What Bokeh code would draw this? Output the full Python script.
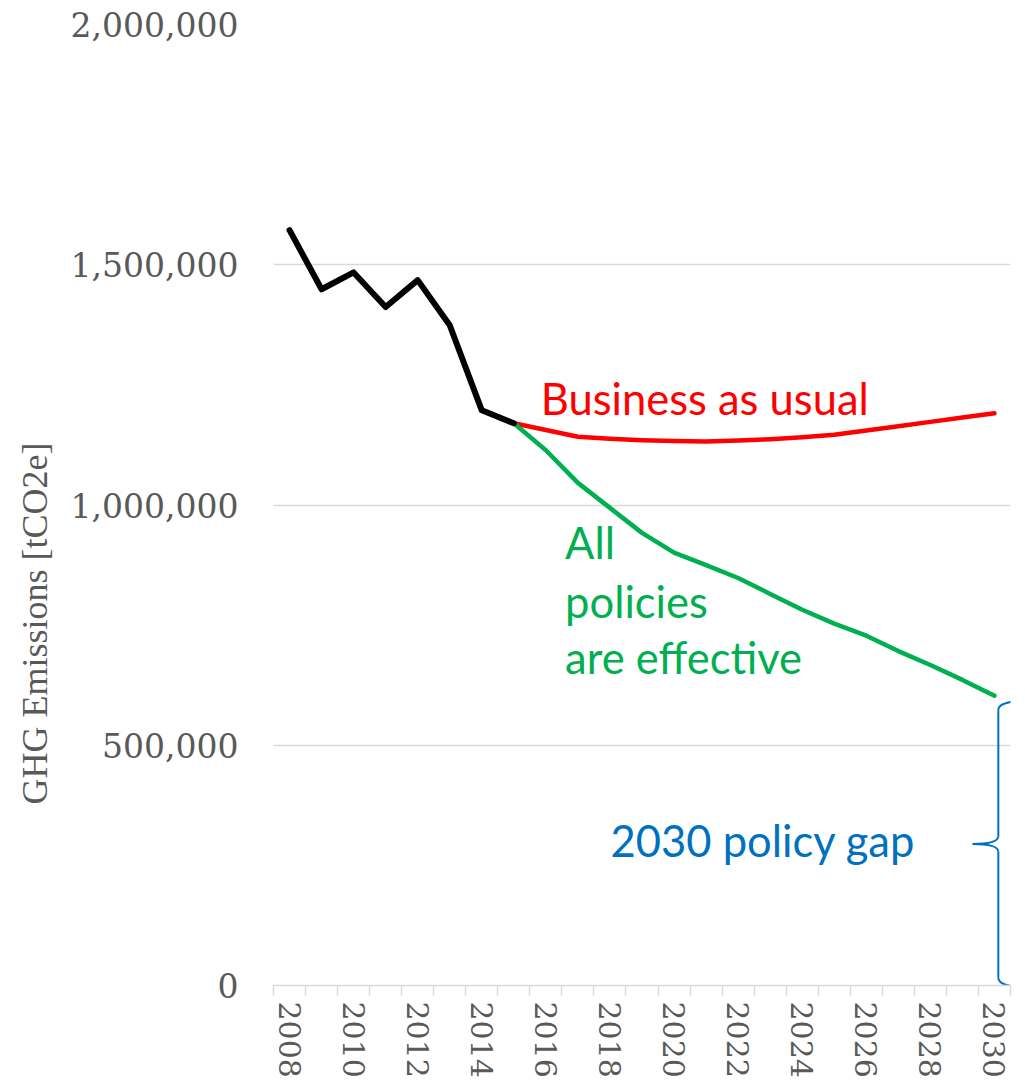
import numpy as np
from bokeh.plotting import figure
from bokeh.models import FixedTicker, NumeralTickFormatter, Range1d, Title
from bokeh.core.properties import value
from bokeh.embed import file_html
from bokeh.resources import INLINE

# ---------------- data ----------------
hist_years = [2008, 2009, 2010, 2011, 2012, 2013, 2014, 2015]
hist_values = [1572000, 1449000, 1484000, 1412000, 1468000, 1374000, 1197000, 1170000]

proj_years = list(range(2015, 2031))
bau_values = [1170000, 1156000, 1142000, 1138000, 1135000, 1133000, 1132000, 1134000,
              1137000, 1141000, 1146000, 1155000, 1164000, 1173000, 1182000, 1191000]
policy_values = [1170000, 1114000, 1046000, 994000, 942000, 901000, 875000, 848000,
                 815000, 782000, 753000, 728000, 696000, 667000, 636000, 603000]

tick_years = list(range(2008, 2031, 2))
all_years = list(range(2008, 2031))
y_ticks = [0, 500000, 1000000, 1500000, 2000000]

GRAY = "#595959"
GRID = "#D9D9D9"
RED = "#FF0000"
GREEN = "#00B050"
BLUE = "#0070C0"

p = figure(width=1020, height=1080,
           x_range=Range1d(all_years[0] - 0.5, all_years[-1] + 0.5),
           y_range=Range1d(0, 2000000),
           output_backend="svg", toolbar_location=None,
           min_border_left=272, min_border_right=10,
           min_border_top=24, min_border_bottom=94)
p.outline_line_color = None
p.background_fill_color = "white"
p.xgrid.grid_line_color = None
p.ygrid.grid_line_color = GRID
p.ygrid.grid_line_width = 1.5

# x axis
p.xaxis.ticker = FixedTicker(ticks=tick_years,
                             minor_ticks=[y - 0.5 for y in all_years] + [all_years[-1] + 0.5])
p.xaxis.axis_line_color = GRID
p.xaxis.axis_line_width = 1.5
p.xaxis.major_tick_line_color = None
p.xaxis.major_tick_out = 0
p.xaxis.major_tick_in = 0
p.xaxis.minor_tick_line_color = GRID
p.xaxis.minor_tick_line_width = 1.5
p.xaxis.minor_tick_out = 10
p.xaxis.minor_tick_in = 0
p.xaxis.major_label_orientation = "vertical"
p.xaxis.major_label_standoff = 6
p.xaxis.major_label_text_font = "DejaVu Serif"
p.xaxis.major_label_text_font_size = "30px"
p.xaxis.major_label_text_color = GRAY

# y axis
p.yaxis.ticker = FixedTicker(ticks=y_ticks)
p.yaxis.formatter = NumeralTickFormatter(format="0,0")
p.yaxis.axis_line_color = None
p.yaxis.major_tick_line_color = None
p.yaxis.minor_tick_line_color = None
p.yaxis.major_tick_out = 0
p.yaxis.major_tick_in = 0
p.yaxis.major_label_standoff = 35
p.yaxis.major_label_text_font = "DejaVu Serif"
p.yaxis.major_label_text_font_size = "33px"
p.yaxis.major_label_text_color = GRAY

# axis title, placed lower than centre as in the original
p.add_layout(Title(text="GHG Emissions [tCO2e]", align="left", offset=181,
                   standoff=25,
                   text_font="Liberation Serif", text_font_size="36px",
                   text_font_style="normal", text_color=GRAY), "left")

# lines
p.line(proj_years, bau_values, line_color=RED, line_width=4.5,
       line_join="round", line_cap="round")
p.line(proj_years, policy_values, line_color=GREEN, line_width=4.5,
       line_join="round", line_cap="round")
p.line(hist_years, hist_values, line_color="black", line_width=6,
       line_join="round", line_cap="round")

# annotations
font = value("Lato")
fs = "43.5px"
p.text(x=[2015.84], y=[1222000], text=["Business as usual"], text_color=RED,
       text_font=font, text_font_size=fs, text_baseline="alphabetic", text_align="left")
p.text(x=[2016.6] * 3, y=[922000, 801000, 683000],
       text=["All", "policies", "are effective"], text_color=GREEN,
       text_font=font, text_font_size=fs, text_baseline="alphabetic", text_align="left")
p.text(x=[2018.02], y=[302000], text=["2030 policy gap"], text_color=BLUE,
       text_font=font, text_font_size=fs, text_baseline="alphabetic", text_align="left")

# brace for the 2030 policy gap
bx = all_years[-1] + 0.12
top = policy_values[-1] - 14000
bot = 0
mid = (top + bot) / 2
d = 16000
arm = 0.85
tip = bx - 0.8
p.quadratic(x0=[bx + arm, bx, tip, bx], y0=[top + 3000, mid + d, mid, bot + d],
            x1=[bx, tip, bx, bx + arm], y1=[top - d, mid, mid - d, bot - 3000],
            cx=[bx, bx, bx, bx], cy=[top + 3000, mid, mid, bot - 3000],
            line_color=BLUE, line_width=2)
p.segment(x0=[bx, bx], y0=[top - d, mid - d], x1=[bx, bx], y1=[mid + d, bot + d],
          line_color=BLUE, line_width=2)

open("out.html", "w").write(file_html(p, INLINE))
